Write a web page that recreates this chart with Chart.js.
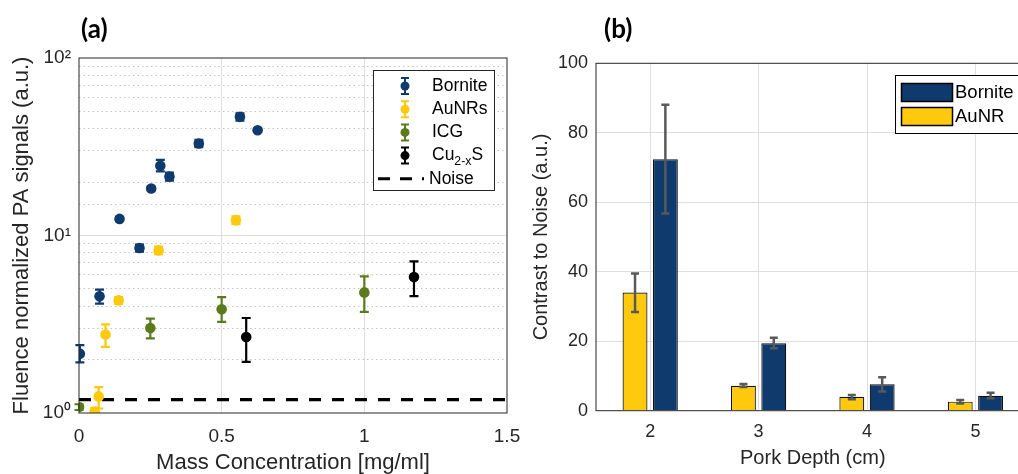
<!DOCTYPE html>
<html>
<head>
<meta charset="utf-8">
<script src="https://cdn.jsdelivr.net/npm/chart.js@4.4.0/dist/chart.umd.min.js"></script>
<style>
  html, body { margin: 0; padding: 0; background: #fff; overflow: hidden; }
  body { width: 1018px; height: 474px; position: relative; }
  canvas { position: absolute; top: 0; }
  #chartA { left: 0; }
  #chartB { left: 520px; }
</style>
</head>
<body>
<canvas id="chartA" width="520" height="474"></canvas>
<canvas id="chartB" width="540" height="474"></canvas>
<script>
// ---- panel (a): PA signal vs mass concentration (log y) ----
const borniteX  = [0.003, 0.072, 0.142, 0.212, 0.253, 0.285, 0.317, 0.42, 0.564, 0.626];
const borniteY  = [2.16, 4.54, 12.4, 8.5, 18.4, 24.7, 21.5, 33.0, 46.6, 39.2];
const borniteLo = [1.93, 4.13, 12.1, 8.1, 18.0, 23.0, 20.4, 31.5, 44.4, 38.3];
const borniteHi = [2.41, 4.95, 12.7, 8.9, 18.8, 26.7, 22.6, 34.6, 48.8, 40.1];

const aunrX  = [0.055, 0.069, 0.093, 0.139, 0.279, 0.55];
const aunrY  = [1.02, 1.24, 2.77, 4.31, 8.24, 12.2];
const aunrLo = [0.97, 1.06, 2.36, 4.12, 7.85, 11.6];
const aunrHi = [1.07, 1.40, 3.16, 4.50, 8.65, 12.8];

const icgX  = [0.0, 0.25, 0.5, 1.0];
const icgY  = [1.08, 3.01, 3.84, 4.78];
const icgLo = [1.04, 2.63, 3.26, 3.71];
const icgHi = [1.12, 3.40, 4.50, 5.88];

const cuX  = [0.586, 1.174];
const cuY  = [2.68, 5.83];
const cuLo = [1.94, 4.56];
const cuHi = [3.43, 7.14];

const noiseLevel = 1.19;
const legendNamesA = ['Bornite', 'AuNRs', 'ICG', 'Cu_{2-x}S', 'Noise'];

// ---- panel (b): contrast to noise vs pork depth ----
const depthLabels = ['2', '3', '4', '5'];
const aunrCNR   = [34.0, 7.2, 4.0, 2.6];
const aunrCNRLo = [28.4, 6.8, 3.3, 2.1];
const aunrCNRHi = [39.5, 7.7, 4.5, 3.1];
const bornCNR   = [72.4, 19.4, 7.6, 4.3];
const bornCNRLo = [56.8, 18.0, 5.5, 3.6];
const bornCNRHi = [88.1, 21.0, 9.6, 5.2];
const legendNamesB = ['Bornite', 'AuNR'];

const BLUE = '#0f3a6e';
const GOLD = '#ffc90e';
const GREEN = '#5a7a1c';
const FONT = '"Liberation Sans", Arial, sans-serif';
const TXT = '#262626';

Chart.defaults.font.family = FONT;
Chart.defaults.color = TXT;
Chart.defaults.animation = false;

const toPts = (xs, ys) => xs.map((x, i) => ({ x: x, y: ys[i] }));
const isDecade = v => Math.abs(Math.log10(v) - Math.round(Math.log10(v))) < 1e-9;

// error bars drawn from each dataset's errLo / errHi through its y scale
function drawErr(chart, meta, ds) {
  if (!ds.errLo) return;
  const c = chart.ctx, ys = chart.scales[meta.yAxisID], a = chart.chartArea;
  c.save();
  c.beginPath();
  c.rect(a.left - 6, a.top, a.right - a.left + 12, a.bottom - a.top);
  c.clip();
  c.strokeStyle = ds.errColor || ds.borderColor;
  c.lineWidth = ds.errWidth || 2;
  const w = (ds.capWidth || 8) / 2;
  meta.data.forEach((el, i) => {
    const x = el.x;
    const t = ys.getPixelForValue(ds.errHi[i]);
    const b = ys.getPixelForValue(ds.errLo[i]);
    c.beginPath();
    c.moveTo(x, t); c.lineTo(x, b);
    c.moveTo(x - w, t); c.lineTo(x + w, t);
    c.moveTo(x - w, b); c.lineTo(x + w, b);
    c.stroke();
  });
  c.restore();
}

const errorBars = {
  id: 'errorBars',
  beforeDatasetDraw(chart, args) {
    if (!args.meta._dataset.errAfter) drawErr(chart, args.meta, args.meta._dataset);
  },
  afterDatasetDraw(chart, args) {
    if (args.meta._dataset.errAfter) drawErr(chart, args.meta, args.meta._dataset);
  }
};

// text with a _{subscript}
function richText(c, s, x, y, size) {
  const parts = s.split(/_\{([^}]*)\}/);
  parts.forEach((p, i) => {
    if (!p) return;
    const sub = i % 2 === 1;
    c.font = (sub ? size * 0.7 : size) + 'px ' + FONT;
    c.fillText(p, x, sub ? y + size * 0.35 : y);
    x += c.measureText(p).width;
  });
}

const frameA = {
  id: 'frameA',
  afterDraw(chart) {
    const c = chart.ctx, a = chart.chartArea;
    c.save();
    c.strokeStyle = TXT;
    c.lineWidth = 1;
    c.strokeRect(a.left, a.top, a.right - a.left, a.bottom - a.top);

    c.fillStyle = '#000';
    c.font = 'bold 26px Lato, ' + FONT;
    c.textBaseline = 'middle';
    c.fillText('(a)', 81, 30);

    // legend
    c.fillStyle = '#fff';
    c.fillRect(373.5, 70.5, 121, 120);
    c.strokeRect(373.5, 70.5, 121, 120);
    const cols = [BLUE, GOLD, GREEN, '#000'];
    legendNamesA.forEach((name, i) => {
      const y = 86 + i * 23.2;
      c.strokeStyle = c.fillStyle = cols[i] || '#000';
      if (i < 4) {
        c.lineWidth = 2;
        c.beginPath();
        c.moveTo(405, y - 8); c.lineTo(405, y + 8);
        c.moveTo(401, y - 8); c.lineTo(409, y - 8);
        c.moveTo(401, y + 8); c.lineTo(409, y + 8);
        c.stroke();
        c.beginPath();
        c.arc(405, y, 4.5, 0, Math.PI * 2);
        c.fill();
      } else {
        c.lineWidth = 3;
        c.setLineDash([12, 10]);
        c.beginPath();
        c.moveTo(378, y); c.lineTo(424, y);
        c.stroke();
        c.setLineDash([]);
      }
      c.fillStyle = '#000';
      richText(c, name, i < 4 ? 432 : 429, y, 17.5);
    });
    c.restore();
  }
};

const frameB = {
  id: 'frameB',
  afterDraw(chart) {
    const c = chart.ctx, a = chart.chartArea;
    c.save();
    c.strokeStyle = TXT;
    c.lineWidth = 1;
    c.strokeRect(a.left, a.top, a.right - a.left, a.bottom - a.top);

    c.fillStyle = '#000';
    c.font = 'bold 26px Lato, ' + FONT;
    c.textBaseline = 'middle';
    c.fillText('(b)', 84, 30);

    c.fillStyle = '#fff';
    c.fillRect(375.5, 75.5, 126, 58);
    c.strokeStyle = '#000';
    c.strokeRect(375.5, 75.5, 126, 58);
    const cols = [BLUE, GOLD];
    legendNamesB.forEach((name, i) => {
      const y = 83.5 + i * 24;
      c.fillStyle = cols[i];
      c.fillRect(381.5, y, 51, 18);
      c.strokeStyle = '#000';
      c.lineWidth = 1.5;
      c.strokeRect(381.5, y, 51, 18);
      c.fillStyle = '#000';
      c.font = '18.5px ' + FONT;
      c.fillText(name, 435, y + 9.5);
    });
    c.restore();
  }
};

function errSet(label, xs, ys, lo, hi, color) {
  return {
    label: label,
    data: toPts(xs, ys),
    errLo: lo,
    errHi: hi,
    backgroundColor: color,
    borderColor: color,
    pointRadius: 5.3,
    pointHoverRadius: 5.3,
    borderWidth: 0,
    errWidth: 2.2,
    capWidth: 9
  };
}

new Chart(document.getElementById('chartA'), {
  type: 'scatter',
  data: {
    datasets: [
      errSet('Bornite', borniteX, borniteY, borniteLo, borniteHi, BLUE),
      errSet('AuNRs', aunrX, aunrY, aunrLo, aunrHi, GOLD),
      errSet('ICG', icgX, icgY, icgLo, icgHi, GREEN),
      errSet('Cu2-xS', cuX, cuY, cuLo, cuHi, '#000'),
      {
        label: 'Noise',
        data: [{ x: 0, y: noiseLevel }, { x: 1.5, y: noiseLevel }],
        showLine: true,
        pointRadius: 0,
        borderColor: '#000',
        borderWidth: 3.2,
        borderDash: [12, 11]
      }
    ]
  },
  options: {
    responsive: false,
    layout: { padding: { top: 58, right: 13, left: 0, bottom: 0 } },
    plugins: { legend: { display: false }, tooltip: { enabled: false } },
    scales: {
      x: {
        type: 'linear',
        min: 0,
        max: 1.5,
        afterFit: s => { s.height = 61; s.paddingRight = 0; s.paddingLeft = 0; },
        ticks: {
          stepSize: 0.5,
          padding: 12.3,
          font: { size: 19 },
          color: TXT,
          callback: v => String(+v.toFixed(2))
        },
        grid: {
          drawTicks: false,
          color: ctx => (ctx.tick && (ctx.tick.value === 0.5 || ctx.tick.value === 1)) ? '#dedede' : 'transparent'
        },
        border: { display: false },
        title: {
          display: true,
          text: 'Mass Concentration [mg/ml]',
          font: { size: 22, lineHeight: 1 },
          padding: { top: 0, bottom: 0 },
          color: TXT
        }
      },
      y: {
        type: 'logarithmic',
        min: 1,
        max: 100,
        afterFit: s => { s.width = 79; },
        ticks: {
          autoSkip: false,
          padding: 8,
          font: { size: 19 },
          color: TXT,
          callback: v => v === 1 ? '10\u2070' : v === 10 ? '10\u00b9' : v === 100 ? '10\u00b2' : ''
        },
        grid: {
          drawTicks: false,
          color: ctx => (ctx.tick && ctx.tick.value === 10) ? '#dedede' : 'transparent'
        },
        border: { display: false },
        title: {
          display: true,
          text: 'Fluence normalized PA signals (a.u.)',
          font: { size: 22, lineHeight: 1 },
          padding: { top: 10.5, bottom: 0 },
          color: TXT
        }
      },
      // dotted minor grid of the log axis
      yMinor: {
        type: 'logarithmic',
        position: 'left',
        min: 1,
        max: 100,
        afterFit: s => { s.width = 0; },
        ticks: { display: false, autoSkip: false },
        grid: {
          drawTicks: false,
          lineWidth: 1,
          color: ctx => (ctx.tick && !isDecade(ctx.tick.value)) ? '#c4c4c4' : 'transparent'
        },
        border: { display: false, dash: [1.5, 3] }
      }
    }
  },
  plugins: [errorBars, frameA]
});

function barSet(label, vals, lo, hi, color) {
  return {
    label: label,
    data: vals,
    errLo: lo,
    errHi: hi,
    errAfter: true,
    errColor: '#595959',
    errWidth: 2.5,
    capWidth: 8,
    backgroundColor: color,
    borderColor: '#111',
    borderWidth: 1.2
  };
}

new Chart(document.getElementById('chartB'), {
  type: 'bar',
  data: {
    labels: depthLabels,
    datasets: [
      barSet('AuNR', aunrCNR, aunrCNRLo, aunrCNRHi, GOLD),
      barSet('Bornite', bornCNR, bornCNRLo, bornCNRHi, BLUE)
    ]
  },
  options: {
    responsive: false,
    categoryPercentage: 0.56,
    barPercentage: 0.82,
    layout: { padding: { top: 63.3, right: 30.4, left: 0, bottom: 0 } },
    plugins: { legend: { display: false }, tooltip: { enabled: false } },
    scales: {
      x: {
        afterFit: s => { s.height = 63.3; },
        ticks: { padding: 10.2, font: { size: 18 }, color: TXT },
        grid: { offset: false, drawTicks: false, color: '#dedede' },
        border: { display: false },
        title: {
          display: true,
          text: 'Pork Depth (cm)',
          font: { size: 20, lineHeight: 1 },
          padding: { top: 0, bottom: 5.5 },
          color: TXT
        }
      },
      y: {
        min: 0,
        max: 100,
        afterFit: s => { s.width = 76; },
        ticks: { stepSize: 20, padding: 8, font: { size: 18 }, color: TXT },
        grid: {
          drawTicks: false,
          color: ctx => (ctx.tick && ctx.tick.value > 0 && ctx.tick.value < 100) ? '#dedede' : 'transparent'
        },
        border: { display: false },
        title: {
          display: true,
          text: 'Contrast to Noise (a.u.)',
          font: { size: 20, lineHeight: 1 },
          padding: { top: 11.7, bottom: 0 },
          color: TXT
        }
      }
    }
  },
  plugins: [errorBars, frameB]
});
</script>
</body>
</html>
